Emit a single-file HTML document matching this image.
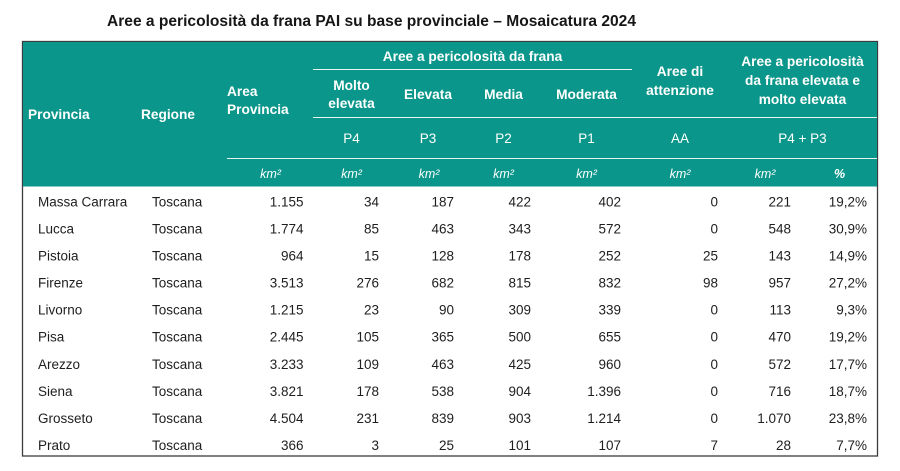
<!DOCTYPE html>
<html>
<head>
<meta charset="utf-8">
<style>
html,body{margin:0;padding:0;background:#fff;}
svg{display:block;}
text{font-family:"Liberation Sans",Arial,sans-serif;}
.h{font-weight:bold;font-size:13.7px;fill:#fff;}
.p{font-size:13.5px;fill:#fff;}
.k{font-size:12.5px;fill:#fff;font-style:italic;}
.d{font-size:13.5px;fill:#1e1e1e;}
</style>
</head>
<body>
<svg width="900" height="471" viewBox="0 0 900 471" xmlns="http://www.w3.org/2000/svg">
<rect x="0" y="0" width="900" height="471" fill="#fff"/>
<text x="107" y="26" font-size="15.8" font-weight="bold" fill="#161616" textLength="529" lengthAdjust="spacingAndGlyphs">Aree a pericolosità da frana PAI su base provinciale – Mosaicatura 2024</text>

<rect x="22.5" y="41.5" width="855" height="414.5" fill="#fff" stroke="#3c3c3c" stroke-width="1.3"/>
<rect x="23" y="42" width="854" height="144.5" fill="#0a968a"/>

<g stroke="#e6f4f2" stroke-width="1">
<line x1="313" y1="69.5" x2="632" y2="69.5"/>
<line x1="313" y1="117.5" x2="877" y2="117.5"/>
<line x1="227" y1="158.5" x2="877" y2="158.5"/>
</g>

<g>
<text class="h" x="28" y="119">Provincia</text>
<text class="h" x="141" y="119">Regione</text>
<text class="h" x="227" y="96">Area</text>
<text class="h" x="227" y="114">Provincia</text>
<text class="h" x="472.5" y="61" text-anchor="middle">Aree a pericolosità da frana</text>
<text class="h" x="351.5" y="90" text-anchor="middle">Molto</text>
<text class="h" x="351.5" y="108" text-anchor="middle">elevata</text>
<text class="h" x="428" y="99" text-anchor="middle">Elevata</text>
<text class="h" x="503.5" y="99" text-anchor="middle">Media</text>
<text class="h" x="586.5" y="99" text-anchor="middle">Moderata</text>
<text class="h" x="680" y="76" text-anchor="middle">Aree di</text>
<text class="h" x="680" y="95" text-anchor="middle">attenzione</text>
<text class="h" x="802.5" y="66" text-anchor="middle">Aree a pericolosità</text>
<text class="h" x="802.5" y="85" text-anchor="middle">da frana elevata e</text>
<text class="h" x="802.5" y="104" text-anchor="middle">molto elevata</text>
</g>

<g text-anchor="middle">
<text class="p" x="351.5" y="143">P4</text>
<text class="p" x="428" y="143">P3</text>
<text class="p" x="503.5" y="143">P2</text>
<text class="p" x="586.5" y="143">P1</text>
<text class="p" x="680" y="143">AA</text>
<text class="p" x="802.5" y="143">P4 + P3</text>
</g>

<g text-anchor="middle">
<text class="k" x="270.5" y="178">km²</text>
<text class="k" x="351.5" y="178">km²</text>
<text class="k" x="429" y="178">km²</text>
<text class="k" x="503.5" y="178">km²</text>
<text class="k" x="586.5" y="178">km²</text>
<text class="k" x="680" y="178">km²</text>
<text class="k" x="765" y="178">km²</text>
<text class="k" x="839.5" y="178" font-weight="bold">%</text>
</g>

<g>
<text class="d" x="38" y="206.5">Massa Carrara</text>
<text class="d" x="152" y="206.5">Toscana</text>
<g text-anchor="end">
<text class="d" x="303.5" y="206.5">1.155</text>
<text class="d" x="379" y="206.5">34</text>
<text class="d" x="454" y="206.5">187</text>
<text class="d" x="531" y="206.5">422</text>
<text class="d" x="621" y="206.5">402</text>
<text class="d" x="718" y="206.5">0</text>
<text class="d" x="791" y="206.5">221</text>
<text class="d" x="867" y="206.5">19,2%</text>
</g>
<text class="d" x="38" y="233.5">Lucca</text>
<text class="d" x="152" y="233.5">Toscana</text>
<g text-anchor="end">
<text class="d" x="303.5" y="233.5">1.774</text>
<text class="d" x="379" y="233.5">85</text>
<text class="d" x="454" y="233.5">463</text>
<text class="d" x="531" y="233.5">343</text>
<text class="d" x="621" y="233.5">572</text>
<text class="d" x="718" y="233.5">0</text>
<text class="d" x="791" y="233.5">548</text>
<text class="d" x="867" y="233.5">30,9%</text>
</g>
<text class="d" x="38" y="260.6">Pistoia</text>
<text class="d" x="152" y="260.6">Toscana</text>
<g text-anchor="end">
<text class="d" x="303.5" y="260.6">964</text>
<text class="d" x="379" y="260.6">15</text>
<text class="d" x="454" y="260.6">128</text>
<text class="d" x="531" y="260.6">178</text>
<text class="d" x="621" y="260.6">252</text>
<text class="d" x="718" y="260.6">25</text>
<text class="d" x="791" y="260.6">143</text>
<text class="d" x="867" y="260.6">14,9%</text>
</g>
<text class="d" x="38" y="287.6">Firenze</text>
<text class="d" x="152" y="287.6">Toscana</text>
<g text-anchor="end">
<text class="d" x="303.5" y="287.6">3.513</text>
<text class="d" x="379" y="287.6">276</text>
<text class="d" x="454" y="287.6">682</text>
<text class="d" x="531" y="287.6">815</text>
<text class="d" x="621" y="287.6">832</text>
<text class="d" x="718" y="287.6">98</text>
<text class="d" x="791" y="287.6">957</text>
<text class="d" x="867" y="287.6">27,2%</text>
</g>
<text class="d" x="38" y="314.7">Livorno</text>
<text class="d" x="152" y="314.7">Toscana</text>
<g text-anchor="end">
<text class="d" x="303.5" y="314.7">1.215</text>
<text class="d" x="379" y="314.7">23</text>
<text class="d" x="454" y="314.7">90</text>
<text class="d" x="531" y="314.7">309</text>
<text class="d" x="621" y="314.7">339</text>
<text class="d" x="718" y="314.7">0</text>
<text class="d" x="791" y="314.7">113</text>
<text class="d" x="867" y="314.7">9,3%</text>
</g>
<text class="d" x="38" y="341.7">Pisa</text>
<text class="d" x="152" y="341.7">Toscana</text>
<g text-anchor="end">
<text class="d" x="303.5" y="341.7">2.445</text>
<text class="d" x="379" y="341.7">105</text>
<text class="d" x="454" y="341.7">365</text>
<text class="d" x="531" y="341.7">500</text>
<text class="d" x="621" y="341.7">655</text>
<text class="d" x="718" y="341.7">0</text>
<text class="d" x="791" y="341.7">470</text>
<text class="d" x="867" y="341.7">19,2%</text>
</g>
<text class="d" x="38" y="368.8">Arezzo</text>
<text class="d" x="152" y="368.8">Toscana</text>
<g text-anchor="end">
<text class="d" x="303.5" y="368.8">3.233</text>
<text class="d" x="379" y="368.8">109</text>
<text class="d" x="454" y="368.8">463</text>
<text class="d" x="531" y="368.8">425</text>
<text class="d" x="621" y="368.8">960</text>
<text class="d" x="718" y="368.8">0</text>
<text class="d" x="791" y="368.8">572</text>
<text class="d" x="867" y="368.8">17,7%</text>
</g>
<text class="d" x="38" y="395.8">Siena</text>
<text class="d" x="152" y="395.8">Toscana</text>
<g text-anchor="end">
<text class="d" x="303.5" y="395.8">3.821</text>
<text class="d" x="379" y="395.8">178</text>
<text class="d" x="454" y="395.8">538</text>
<text class="d" x="531" y="395.8">904</text>
<text class="d" x="621" y="395.8">1.396</text>
<text class="d" x="718" y="395.8">0</text>
<text class="d" x="791" y="395.8">716</text>
<text class="d" x="867" y="395.8">18,7%</text>
</g>
<text class="d" x="38" y="422.9">Grosseto</text>
<text class="d" x="152" y="422.9">Toscana</text>
<g text-anchor="end">
<text class="d" x="303.5" y="422.9">4.504</text>
<text class="d" x="379" y="422.9">231</text>
<text class="d" x="454" y="422.9">839</text>
<text class="d" x="531" y="422.9">903</text>
<text class="d" x="621" y="422.9">1.214</text>
<text class="d" x="718" y="422.9">0</text>
<text class="d" x="791" y="422.9">1.070</text>
<text class="d" x="867" y="422.9">23,8%</text>
</g>
<text class="d" x="38" y="450">Prato</text>
<text class="d" x="152" y="450">Toscana</text>
<g text-anchor="end">
<text class="d" x="303.5" y="450">366</text>
<text class="d" x="379" y="450">3</text>
<text class="d" x="454" y="450">25</text>
<text class="d" x="531" y="450">101</text>
<text class="d" x="621" y="450">107</text>
<text class="d" x="718" y="450">7</text>
<text class="d" x="791" y="450">28</text>
<text class="d" x="867" y="450">7,7%</text>
</g>
</g>
</svg>
</body>
</html>
